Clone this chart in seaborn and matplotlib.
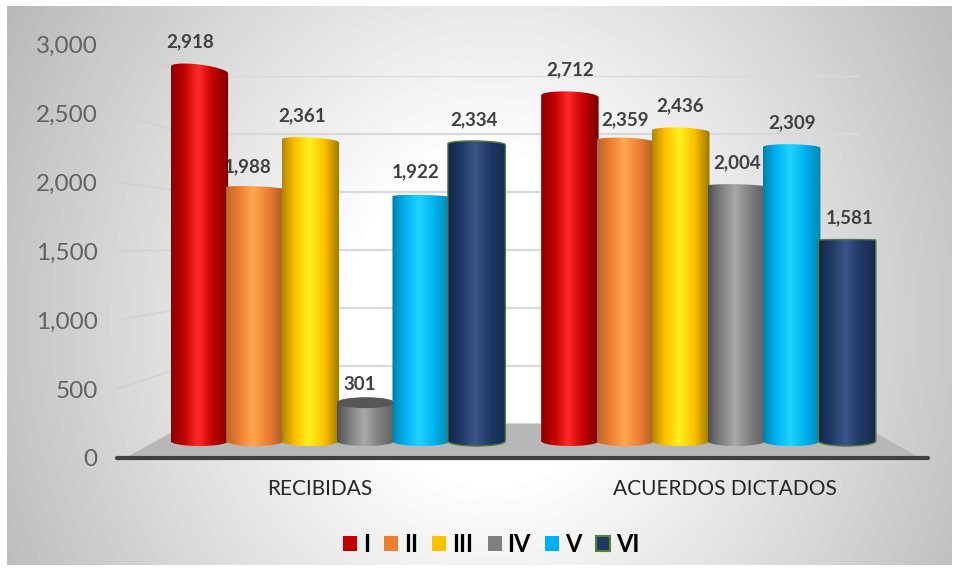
import numpy as np
import pandas as pd
import seaborn as sns
import matplotlib
matplotlib.use("Agg")
import matplotlib.pyplot as plt
from matplotlib.colors import LinearSegmentedColormap
from matplotlib.lines import Line2D
from matplotlib.patches import Ellipse, PathPatch, Polygon, Patch
from matplotlib.path import Path

categories = ["RECIBIDAS", "ACUERDOS DICTADOS"]
series_names = ["I", "II", "III", "IV", "V", "VI"]
recibidas = [2918, 1988, 2361, 301, 1922, 2334]
acuerdos = [2712, 2359, 2436, 2004, 2309, 1581]
y_ticks = [0, 500, 1000, 1500, 2000, 2500, 3000]

legend_colors = ["#C00000", "#ED7D31", "#FFC000", "#7F7F7F", "#00B0F0", "#1F3864"]
shades = [
    ["#8A0000", "#C00000", "#FF2A2A", "#C00000", "#7E0000"],
    ["#B8662A", "#ED7D31", "#FFA850", "#ED7D31", "#A85E28"],
    ["#B08400", "#FFC000", "#FFF020", "#FFC000", "#9C7800"],
    ["#4F4F4F", "#7F7F7F", "#A8A8A8", "#7F7F7F", "#5F5F5F"],
    ["#0080A8", "#00B0F0", "#1FD4FF", "#00B0F0", "#0088B0"],
    ["#142448", "#1F3864", "#3A5688", "#1F3864", "#162A50"],
]
label_dx = [-9, -7, -8, -6, -5, -2, 1, 0, 0, 1, 1, 3]
label_gap = [28, 22, 25, 18, 25, 25, 27, 21, 26, 24, 25, 22]
top_tilt = [7, 2, 3, 0, 1, 1, 2, 2, 2, 1, 1, 0]

W, H = 954, 580
sns.set_theme(style="white")
plt.rcParams["font.family"] = ["Lato", "DejaVu Sans"]
fig = plt.figure(figsize=(W / 100, H / 100), dpi=100, facecolor="white")


def px_rect(x0, y0, x1, y1):
    return [x0 / W, 1 - y1 / H, (x1 - x0) / W, (y1 - y0) / H]


# background
bg = fig.add_axes(px_rect(7, 6, 952, 565), zorder=0)
bg.axis("off")
yy, xx = np.mgrid[6:565, 7:952]
dist = np.sqrt(((xx - 490) / 470.0) ** 2 + ((yy - 320) / 540.0) ** 2)
shade = 1 - 0.22 * np.clip((dist - 0.3) / 0.7, 0, 1.3)
bg.imshow(shade, cmap="gray", vmin=0, vmax=1, aspect="auto")

# back wall
wall = fig.add_axes(px_rect(187, 76, 860, 424), zorder=1)
wall.patch.set_alpha(0)
wall.set_ylim(0, 3000)
wall.set_xlim(0, 1)
wall.set_yticks(y_ticks)
wall.set_xticks([])
wall.tick_params(left=False, labelleft=False)
wall.grid(axis="y", color="#D9D9D9", lw=1.6)
sns.despine(ax=wall, left=True, bottom=True)

# front axis with tick labels
front = fig.add_axes(px_rect(117, 44, 928, 458), zorder=2)
front.patch.set_alpha(0)
front.set_xlim(-0.5, 1.5)
front.set_ylim(0, 3000)
front.set_xticks([0, 1], categories)
front.set_yticks(y_ticks)
front.yaxis.set_major_formatter(lambda v, _: f"{int(v):,}")
front.tick_params(axis="y", length=0, pad=14, labelsize=17.5, labelcolor="#626262")
front.tick_params(axis="x", length=0, pad=15, labelsize=15, labelcolor="#262626")
sns.despine(ax=front, left=True)
front.spines["bottom"].set_color("#404040")
front.spines["bottom"].set_linewidth(3)
front.spines["bottom"].set_capstyle("round")

# floor and side grid lines
to_fig = fig.transFigure.inverted()
w_tr = wall.transData + to_fig
f_tr = front.transData + to_fig
w_ax = wall.transAxes + to_fig
f_ax = front.transAxes + to_fig
floor = [f_ax.transform((0.01, 0)), f_ax.transform((0.99, 0)),
         w_ax.transform((1, 0)), w_ax.transform((0, 0))]
fig.add_artist(Polygon(floor, closed=True, transform=fig.transFigure,
                       fc="#B7B7B7", ec="none", zorder=1.5))
for t in y_ticks[1:]:
    a = f_tr.transform((-0.5, t))
    b = w_tr.transform((0, t))
    fig.add_artist(Line2D([a[0], b[0]], [a[1], b[1]], transform=fig.transFigure,
                          color="#CFCFCF", lw=1.1, alpha=0.8, zorder=1.5))

# bars
df = pd.DataFrame({
    "category": np.repeat(categories, len(series_names)),
    "series": series_names * 2,
    "value": recibidas + acuerdos,
})
ax = fig.add_axes([0, 0, 1, 1], zorder=3)
ax.patch.set_alpha(0)
palette = dict(zip(series_names, legend_colors))
sns.barplot(data=df, x="category", y="value", hue="series", order=categories,
            hue_order=series_names, palette=palette, width=0.898, gap=0,
            dodge=True, legend=False, ax=ax, linewidth=0, saturation=1)
Y0, SCALE = 441, 0.1271
STEP, C0 = 370.5, 337.5
ax.set_xlim(-C0 / STEP, (W - C0) / STEP)
ax.set_ylim(-(H - Y0) / SCALE, Y0 / SCALE)
ax.axis("off")

hscale = 1 / STEP
vscale = 1 / SCALE
for s, container in enumerate(ax.containers):
    cmap = LinearSegmentedColormap.from_list(f"c{s}", shades[s])
    grad = np.power(np.linspace(0, 1, 256), 0.92)[None, :]
    for g, bar in enumerate(container):
        v = bar.get_height()
        x0 = bar.get_x() - 0.5 * hscale
        x1 = bar.get_x() + bar.get_width() + 1.5 * hscale
        xm = (x0 + x1) / 2
        rx = (x1 - x0) / 2
        y_px = Y0 - v * SCALE
        k = g * 6 + s
        tilt = top_tilt[k] * vscale / 2
        ry_top = (0.03 * abs(y_px - 240) + 0.5) * vscale
        ry_bot = 5 * vscale
        n = 40
        th = np.linspace(np.pi, 0, n)
        top_x = xm + rx * np.cos(th)
        top_y = v + ry_top * np.sin(th) - tilt * np.cos(th)
        th2 = np.linspace(0, -np.pi, n)
        bot_x = xm + rx * np.cos(th2)
        bot_y = ry_bot * np.sin(th2)
        verts = np.r_[np.c_[top_x, top_y], np.c_[bot_x, bot_y], [[top_x[0], top_y[0]]]]
        codes = [Path.MOVETO] + [Path.LINETO] * (len(verts) - 2) + [Path.CLOSEPOLY]
        outline = PathPatch(Path(verts, codes), transform=ax.transData, fc="none", ec="none")
        z = 3 + s * 0.1
        bar.set_zorder(z - 0.05)
        im = ax.imshow(grad, cmap=cmap, aspect="auto", zorder=z,
                       extent=(x0, x1, -ry_bot * 1.1, v + ry_top + abs(tilt) + 50))
        ax.add_patch(outline)
        im.set_clip_path(outline)
        bar.set_clip_path(outline)
        if s == 5:
            edge = PathPatch(Path(verts, codes), transform=ax.transData, fc="none",
                             ec="#4F7A3A", lw=1.0, zorder=z + 0.01)
            ax.add_patch(edge)
        if y_px > 260:
            ax.add_patch(Ellipse((xm, v), 2 * rx, 2 * ry_top, fc="#565656", ec="none", zorder=z + 0.02))
        ax.annotate(f"{int(v):,}", xy=(bar.get_x() + bar.get_width() / 2, v),
                    xytext=(label_dx[k], label_gap[k]), textcoords="offset pixels",
                    ha="center", va="center", fontsize=13.5, fontweight="bold",
                    color="#404040", zorder=2.9)
ax.set_xlim(-C0 / STEP, (W - C0) / STEP)
ax.set_ylim(-(H - Y0) / SCALE, Y0 / SCALE)

handles = [Patch(fc=c, ec="#548235" if n == "VI" else "none", lw=1.5, label=n)
           for n, c in zip(series_names, legend_colors)]
leg = ax.legend(handles=handles, ncol=6, frameon=False, loc="center",
                bbox_to_anchor=(491 / W, 1 - 544 / H), bbox_transform=fig.transFigure,
                handlelength=0.6, handleheight=0.6, handletextpad=0.25, columnspacing=0.6,
                prop={"size": 17, "weight": "bold"}, labelcolor="black")

fig.savefig("out.png", dpi=100)
